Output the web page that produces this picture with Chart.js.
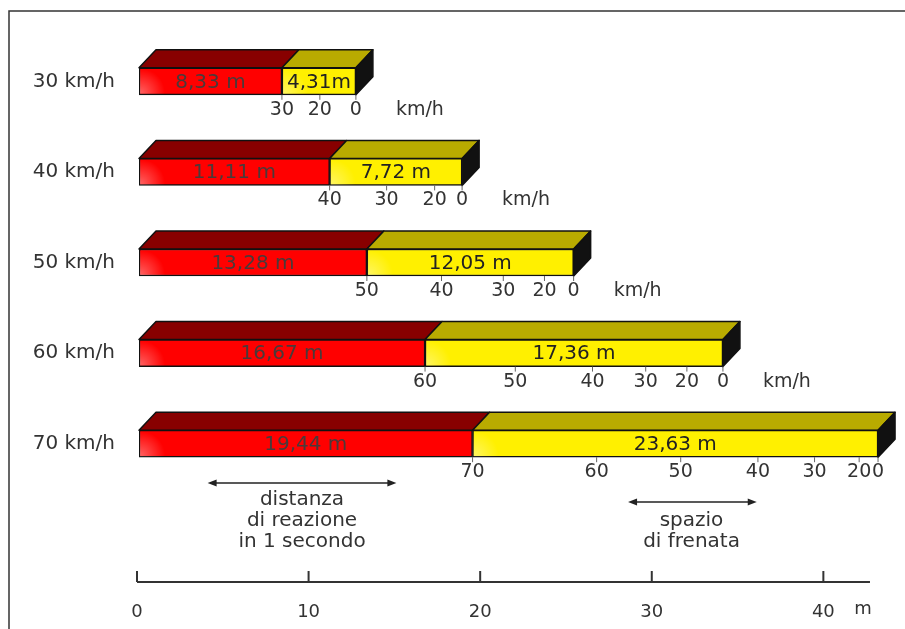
<!DOCTYPE html>
<html>
<head>
<meta charset="utf-8">
<script src="https://cdn.jsdelivr.net/npm/chart.js@4.4.0/dist/chart.umd.min.js"></script>
<style>
  html, body { margin: 0; padding: 0; background: #fff; }
  #wrap { width: 905px; height: 629px; }
</style>
</head>
<body>
<div id="wrap"><canvas id="brakeChart" width="905" height="629"></canvas></div>
<script>
// rows: speed, reaction distance (1 s) and braking distance in metres
const speedLabels = ['30 km/h', '40 km/h', '50 km/h', '60 km/h', '70 km/h'];
const reactionDist = [8.33, 11.11, 13.28, 16.67, 19.44];
const brakingDist = [4.31, 7.72, 12.05, 17.36, 23.63];

// speed marks under each bar: speed reached and metres still left before stopping
const markSpeeds = [
  [30, 20, 0],
  [40, 30, 20, 0],
  [50, 40, 30, 20, 0],
  [60, 50, 40, 30, 20, 0],
  [70, 60, 50, 40, 30, 20, 0]
];
const markRemaining = [
  [4.31, 2.1, 0],
  [7.72, 4.4, 1.6, 0],
  [12.05, 7.7, 4.1, 1.7, 0],
  [17.36, 12.1, 7.6, 4.5, 2.1, 0],
  [23.63, 16.4, 11.5, 7.0, 3.7, 1.1, 0]
];
const markUnit = ['km/h', 'km/h', 'km/h', 'km/h', ''];

// bottom metre scale
const meterTicks = [0, 10, 20, 30, 40];
const meterUnit = 'm';

const FONT = '"DejaVu Sans", Verdana, sans-serif';
const TEXT = '#333';
const DX = 17, DY = 18; // depth of the boxes

function fmt(v) {
  return v.toFixed(2).replace('.', ',');
}

const boxes3d = {
  id: 'boxes3d',
  beforeDatasetsDraw(chart) {
    const ctx = chart.ctx;
    const n = chart.data.datasets.length;
    ctx.save();
    ctx.lineWidth = 1.5;
    ctx.strokeStyle = '#111';
    ctx.lineJoin = 'round';
    chart.data.datasets.forEach((ds, di) => {
      chart.getDatasetMeta(di).data.forEach(bar => {
        const { x, y, base, height } = bar.getProps(['x', 'y', 'base', 'height'], true);
        const top = y - height / 2, bottom = y + height / 2;
        // top face
        ctx.beginPath();
        ctx.moveTo(base, top);
        ctx.lineTo(base + DX, top - DY);
        ctx.lineTo(x + DX, top - DY);
        ctx.lineTo(x, top);
        ctx.closePath();
        ctx.fillStyle = ds.topColor;
        ctx.fill();
        ctx.stroke();
        // end face
        if (di === n - 1) {
          ctx.beginPath();
          ctx.moveTo(x, top);
          ctx.lineTo(x + DX, top - DY);
          ctx.lineTo(x + DX, bottom - DY);
          ctx.lineTo(x, bottom);
          ctx.closePath();
          ctx.fillStyle = '#111';
          ctx.fill();
          ctx.stroke();
        }
      });
    });
    ctx.restore();
  },
  afterDatasetsDraw(chart) {
    const ctx = chart.ctx;
    const xs = chart.scales.x;
    ctx.save();

    // soft highlight at the left of each front face + value text
    chart.data.datasets.forEach((ds, di) => {
      chart.getDatasetMeta(di).data.forEach((bar, i) => {
        const { x, y, base, height } = bar.getProps(['x', 'y', 'base', 'height'], true);
        const top = y - height / 2, bottom = y + height / 2;
        ctx.save();
        ctx.beginPath();
        ctx.rect(base + 1, top + 1, x - base - 2, height - 2);
        ctx.clip();
        const g = ctx.createRadialGradient(base + 2, bottom - 2, 1, base + 2, bottom - 2, 24);
        g.addColorStop(0, 'rgba(255,255,255,0.35)');
        g.addColorStop(1, 'rgba(255,255,255,0)');
        ctx.fillStyle = g;
        ctx.fillRect(base, top, 30, height);
        ctx.restore();

        ctx.font = '20px ' + FONT;
        ctx.textAlign = 'center';
        ctx.textBaseline = 'middle';
        let txt = fmt(ds.data[i]) + ' m';
        if (ctx.measureText(txt).width + 4 > x - base) {
          txt = fmt(ds.data[i]) + 'm';
        }
        ctx.fillStyle = ds.textColor;
        ctx.fillText(txt, (base + x) / 2, y + 1);
      });
    });

    // speed marks under the bars
    const meta = chart.getDatasetMeta(0);
    ctx.font = '19px ' + FONT;
    ctx.textBaseline = 'middle';
    ctx.strokeStyle = '#666';
    ctx.lineWidth = 1;
    meta.data.forEach((bar, i) => {
      const bottom = bar.y + bar.height / 2;
      const total = reactionDist[i] + brakingDist[i];
      markSpeeds[i].forEach((s, k) => {
        const px = xs.getPixelForValue(total - markRemaining[i][k]);
        ctx.beginPath();
        ctx.moveTo(px, bottom);
        ctx.lineTo(px, bottom + 5);
        ctx.stroke();
        ctx.fillStyle = TEXT;
        ctx.textAlign = 'center';
        ctx.fillText(String(s), px, bottom + 15);
      });
      if (markUnit[i]) {
        ctx.textAlign = 'left';
        ctx.fillText(markUnit[i], xs.getPixelForValue(total) + 40, bottom + 15);
      }
    });
    ctx.restore();
  },
  afterDraw(chart) {
    const ctx = chart.ctx;
    const xs = chart.scales.x;
    ctx.save();

    // frame
    ctx.strokeStyle = '#333';
    ctx.lineWidth = 1.5;
    ctx.beginPath();
    ctx.moveTo(9, 629);
    ctx.lineTo(9, 11);
    ctx.lineTo(905, 11);
    ctx.stroke();

    // arrows with captions
    const arrow = (a, b, y) => {
      const x1 = xs.getPixelForValue(a), x2 = xs.getPixelForValue(b);
      ctx.strokeStyle = '#222';
      ctx.fillStyle = '#222';
      ctx.lineWidth = 1.5;
      ctx.beginPath();
      ctx.moveTo(x1 + 4, y);
      ctx.lineTo(x2 - 4, y);
      ctx.stroke();
      [[x1, 1], [x2, -1]].forEach(([xp, d]) => {
        ctx.beginPath();
        ctx.moveTo(xp, y);
        ctx.lineTo(xp + 9 * d, y - 3.5);
        ctx.lineTo(xp + 9 * d, y + 3.5);
        ctx.closePath();
        ctx.fill();
      });
    };
    arrow(4, 15, 483);
    arrow(28.5, 36, 502);

    ctx.font = '20px ' + FONT;
    ctx.fillStyle = TEXT;
    ctx.textAlign = 'center';
    ctx.textBaseline = 'middle';
    const cx1 = xs.getPixelForValue(9.5);
    ['distanza', 'di reazione', 'in 1 secondo'].forEach((t, k) => ctx.fillText(t, cx1, 500 + k * 21));
    const cx2 = xs.getPixelForValue(32.2);
    ['spazio', 'di frenata'].forEach((t, k) => ctx.fillText(t, cx2, 521 + k * 21));

    // metre scale
    const yAxis = 582;
    ctx.strokeStyle = '#333';
    ctx.lineWidth = 2;
    ctx.beginPath();
    ctx.moveTo(xs.getPixelForValue(0) - 2, yAxis);
    ctx.lineTo(xs.getPixelForValue(42.6), yAxis);
    ctx.stroke();
    ctx.font = '18px ' + FONT;
    meterTicks.forEach(v => {
      const px = xs.getPixelForValue(v) - 2;
      ctx.beginPath();
      ctx.moveTo(px, yAxis);
      ctx.lineTo(px, yAxis - 11);
      ctx.stroke();
      ctx.fillText(String(v), px, 612);
    });
    ctx.fillText(meterUnit, xs.getPixelForValue(42.2), 609);
    ctx.restore();
  }
};

const ctx = document.getElementById('brakeChart').getContext('2d');
const brakeChart = new Chart(ctx, {
  type: 'bar',
  data: {
    labels: speedLabels,
    datasets: [{
      label: 'distanza di reazione',
      data: reactionDist,
      backgroundColor: '#ff0000',
      topColor: '#880000',
      textColor: '#4a3a3a',
      borderColor: '#111',
      borderWidth: 1.5,
      borderSkipped: false,
      barThickness: 27
    }, {
      label: 'spazio di frenata',
      data: brakingDist,
      backgroundColor: '#fff000',
      topColor: '#b9ab00',
      textColor: '#222',
      borderColor: '#111',
      borderWidth: 1.5,
      borderSkipped: false,
      barThickness: 27
    }]
  },
  options: {
    indexAxis: 'y',
    responsive: false,
    animation: false,
    layout: { padding: { top: 36, bottom: 140, left: 0, right: 11 } },
    plugins: {
      legend: { display: false },
      tooltip: { enabled: false }
    },
    scales: {
      x: { stacked: true, min: 0, max: 44, display: false },
      y: {
        stacked: true,
        grid: { display: false, drawTicks: false },
        border: { display: false },
        ticks: { padding: 24, color: TEXT, font: { family: FONT, size: 20 } },
        afterFit(scale) { scale.width = 139; }
      }
    }
  },
  plugins: [boxes3d]
});
</script>
</body>
</html>
